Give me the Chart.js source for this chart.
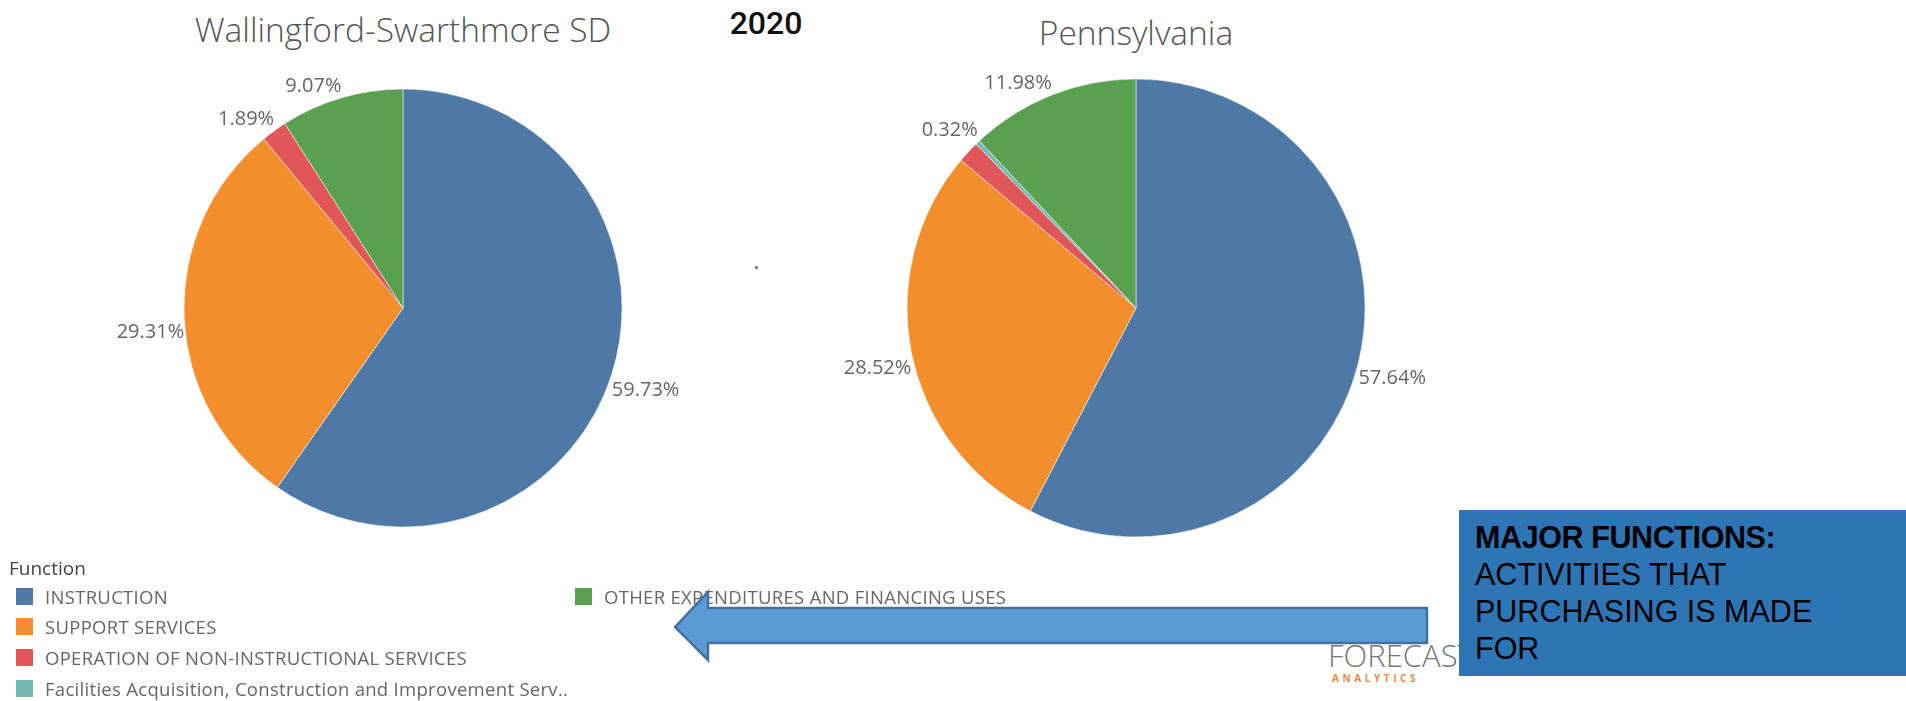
<!DOCTYPE html>
<html>
<head>
<meta charset="utf-8">
<script src="https://cdn.jsdelivr.net/npm/chart.js@4.4.1/dist/chart.umd.min.js"></script>
<style>
  html, body { margin: 0; padding: 0; background: #fff; }
  body { width: 1906px; height: 701px; position: relative; overflow: hidden; font-family: 'Open Sans', sans-serif; }
  .pie { position: absolute; top: 8px; }
  .title { position: absolute; width: 600px; text-align: center; font-size: 33.5px; line-height: 34px; font-weight: 300; color: #555; white-space: nowrap; }
  #year { position: absolute; left: 716px; top: 7px; width: 100px; text-align: center; font-family: 'Roboto', sans-serif; font-weight: 500; font-size: 32px; line-height: 32px; color: #111; }
  #dot { position: absolute; left: 755px; top: 266px; width: 3px; height: 3px; background: #666; border-radius: 50%; }
  #legendTitle { position: absolute; left: 9px; top: 556px; font-size: 19px; line-height: 24px; color: #444; }
  #legend { position: absolute; left: 16px; top: 581px; display: grid; grid-template-rows: repeat(4, 30.6px); grid-auto-flow: column; grid-template-columns: 559px auto; }
  .item { display: flex; align-items: center; font-size: 18.5px; letter-spacing: 0.3px; color: #666; white-space: nowrap; }
  .sw { width: 17px; height: 17px; margin-right: 12px; flex: none; }
  #logo { position: absolute; left: 1328px; top: 638px; color: #777; font-weight: 300; font-size: 31px; line-height: 34px; }
  #logo small { display: block; font-size: 10px; line-height: 11px; font-weight: 700; letter-spacing: 3.6px; color: #e98a3c; margin-left: 4px; margin-top: 1px; }
  #note { position: absolute; left: 1459px; top: 510px; width: 447px; height: 166px; background: #2e75b6; box-sizing: border-box;
          padding: 9px 0 0 16px; font-family: 'Liberation Sans', Arial, sans-serif; font-size: 30.5px; line-height: 37px; color: #000; }
  #note b { letter-spacing: -0.4px; }
  #arrow { position: absolute; left: 0; top: 0; }
</style>
</head>
<body>
<div class="title" style="left:103px; top:12px;">Wallingford-Swarthmore SD</div>
<div id="year">2020</div>
<div class="title" style="left:836px; top:15px;">Pennsylvania</div>
<div id="dot"></div>

<canvas id="wsd" class="pie" width="640" height="600" style="left:83px;"></canvas>
<canvas id="pa" class="pie" width="640" height="600" style="left:816px;"></canvas>

<div id="legendTitle">Function</div>
<div id="legend"></div>

<div id="logo">FORECAST<small>ANALYTICS</small></div>

<svg id="arrow" width="1906" height="701">
  <polygon points="675,627 708,592 708,608 1427,608 1427,643 708,643 708,660"
           fill="#5b9bd5" stroke="#41719c" stroke-width="2.5" stroke-linejoin="miter"/>
</svg>

<div id="note"><b>MAJOR FUNCTIONS:</b><br>ACTIVITIES THAT<br>PURCHASING IS MADE<br>FOR</div>

<script>
// Expenditure share by major function, 2020 (percent)
const categories = [
  'INSTRUCTION',
  'SUPPORT SERVICES',
  'OPERATION OF NON-INSTRUCTIONAL SERVICES',
  'Facilities Acquisition, Construction and Improvement Serv..',
  'OTHER EXPENDITURES AND FINANCING USES'
];
const colors = ['#4e79a7', '#f28e2b', '#e15759', '#76b7b2', '#59a14f'];

const wsdValues = [59.73, 29.31, 1.89, 0, 9.07];
const paValues  = [57.64, 28.52, 1.54, 0.32, 11.98];

// which slices carry a % label (the small PA red slice has none)
const wsdShown = [true, true, true, false, true];
const paShown  = [true, true, false, true, true];

// ── % labels outside the slices ────────────────────────────
// label box sits just outside the rim at the slice's mid angle,
// its nearest corner touching the circle
const pctLabels = {
  id: 'pctLabels',
  afterDatasetsDraw(chart) {
    const ctx = chart.ctx;
    const ds = chart.data.datasets[0];
    const meta = chart.getDatasetMeta(0);
    ctx.save();
    ctx.font = '20px "Open Sans"';
    ctx.fillStyle = '#666';
    ctx.textAlign = 'center';
    ctx.textBaseline = 'middle';
    meta.data.forEach((arc, i) => {
      const v = ds.data[i];
      if (!v || !ds.shown[i]) return;
      const p = arc.getProps(['x', 'y', 'startAngle', 'endAngle', 'outerRadius'], true);
      const mid = (p.startAngle + p.endAngle) / 2;
      const dx = Math.cos(mid), dy = Math.sin(mid);
      const text = v.toFixed(2) + '%';
      const w = ctx.measureText(text).width;
      const h = Math.abs(dy) > 0.7 ? 24 : 32;
      const ax = p.x + dx * p.outerRadius;
      const ay = p.y + dy * p.outerRadius;
      ctx.fillText(text, ax + Math.sign(dx) * w / 2, ay + Math.sign(dy) * h / 2);
    });
    ctx.restore();
  }
};

function makePie(id, values, shown, radius) {
  return new Chart(document.getElementById(id).getContext('2d'), {
    type: 'pie',
    data: {
      labels: categories,
      datasets: [{
        data: values,
        shown,
        backgroundColor: colors,
        borderColor: 'rgba(255,255,255,0.5)',
        borderWidth: 1
      }]
    },
    options: {
      responsive: false,
      animation: false,
      devicePixelRatio: 1,
      radius,
      layout: { padding: 0 },
      plugins: { legend: { display: false }, tooltip: { enabled: false }, title: { display: false } }
    },
    plugins: [pctLabels]
  });
}

makePie('wsd', wsdValues, wsdShown, 219);
makePie('pa', paValues, paShown, 229);

// ── legend (two columns, 4 rows) ───────────────────────────
const legend = document.getElementById('legend');
categories.forEach((c, i) => {
  const row = document.createElement('div');
  row.className = 'item';
  row.innerHTML = `<span class="sw" style="background:${colors[i]}"></span>${c}`;
  legend.appendChild(row);
});
</script>
</body>
</html>
